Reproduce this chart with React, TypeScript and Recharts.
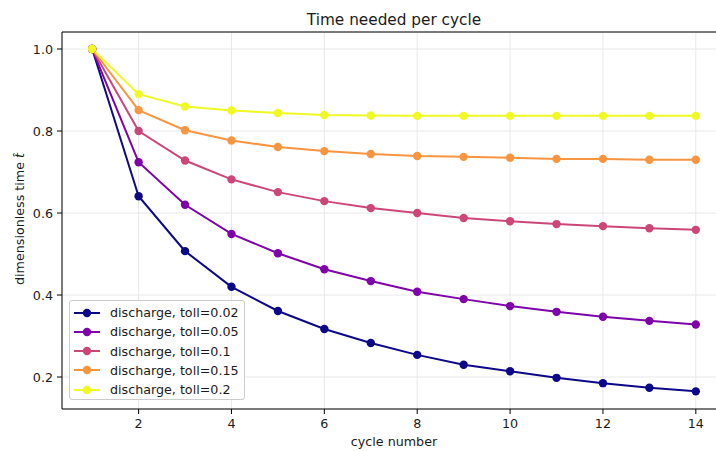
import { LineChart, Line, XAxis, YAxis, CartesianGrid, Legend, ReferenceLine } from 'recharts';

// cycle index (x axis)
const cycles = [1, 2, 3, 4, 5, 6, 7, 8, 9, 10, 11, 12, 13, 14];

// dimensionless time per cycle, one array per toll value
const toll002 = [1.0, 0.641, 0.507, 0.42, 0.361, 0.317, 0.283, 0.254, 0.23, 0.214, 0.198, 0.185, 0.174, 0.165];
const toll005 = [1.0, 0.724, 0.62, 0.549, 0.502, 0.463, 0.434, 0.408, 0.39, 0.373, 0.359, 0.347, 0.337, 0.328];
const toll01 = [1.0, 0.8, 0.728, 0.682, 0.651, 0.629, 0.612, 0.6, 0.588, 0.58, 0.573, 0.568, 0.563, 0.559];
const toll015 = [1.0, 0.851, 0.802, 0.777, 0.761, 0.751, 0.744, 0.739, 0.737, 0.735, 0.732, 0.732, 0.73, 0.73];
const toll02 = [1.0, 0.89, 0.86, 0.85, 0.844, 0.839, 0.838, 0.837, 0.837, 0.837, 0.837, 0.837, 0.837, 0.837];

const xTicks = [2, 4, 6, 8, 10, 12, 14];
const yTicks = [0.2, 0.4, 0.6, 0.8, 1.0];

const X_DOMAIN: [number, number] = [0.35, 14.65];
const Y_DOMAIN: [number, number] = [0.122, 1.0415];

const series = [
  { key: 'toll002', name: 'discharge, toll=0.02', color: '#0d0887', values: toll002 },
  { key: 'toll005', name: 'discharge, toll=0.05', color: '#7e03a8', values: toll005 },
  { key: 'toll01', name: 'discharge, toll=0.1', color: '#cc4778', values: toll01 },
  { key: 'toll015', name: 'discharge, toll=0.15', color: '#f89540', values: toll015 },
  { key: 'toll02', name: 'discharge, toll=0.2', color: '#f0f921', values: toll02 },
];

const data = cycles.map((c, i) => {
  const row: Record<string, number> = { cycle: c };
  series.forEach((s) => {
    row[s.key] = s.values[i];
  });
  return row;
});

const FONT = '"DejaVu Sans", sans-serif';
const TEXT = '#1a1a1a';

function LegendBox() {
  return (
    <div
      style={{
        width: 176,
        height: 100,
        boxSizing: 'border-box',
        background: 'rgba(255,255,255,0.8)',
        border: '1px solid #cccccc',
        borderRadius: 3,
        paddingTop: 2,
        fontFamily: FONT,
        fontSize: 12.7,
        color: TEXT,
      }}
    >
      {series.map((s) => (
        <div key={s.key} style={{ height: 19.25, display: 'flex', alignItems: 'center' }}>
          <svg width={26} height={10} style={{ marginLeft: 4, flex: 'none' }}>
            <line x1={0} y1={5} x2={26} y2={5} stroke={s.color} strokeWidth={2} />
            <circle cx={13} cy={5} r={4.2} fill={s.color} />
          </svg>
          <span style={{ marginLeft: 10, whiteSpace: 'nowrap' }}>{s.name}</span>
        </div>
      ))}
    </div>
  );
}

export default function App() {
  return (
    <div style={{ position: 'absolute', left: 0, top: 0, width: 716, height: 451, overflow: 'hidden', background: '#fff' }}>
      <LineChart width={726} height={451} data={data} margin={{ top: 32, right: 0, bottom: 0, left: 0 }}>
        <text x={394} y={25} textAnchor="middle" fontFamily={FONT} fontSize={15.3} fill={TEXT}>
          Time needed per cycle
        </text>
        <CartesianGrid stroke="#e8e8e8" strokeWidth={1} />
        <XAxis
          type="number"
          dataKey="cycle"
          domain={X_DOMAIN}
          ticks={xTicks}
          allowDataOverflow
          height={42}
          tickSize={5}
          tickMargin={5}
          stroke="#000"
          tick={{ fill: TEXT, fontSize: 12.7, fontFamily: FONT }}
          label={(props: any) => (
            <text x={394} y={446} textAnchor="middle" fontFamily={FONT} fontSize={12.7} fill={TEXT}>
              cycle number
            </text>
          )}
        />
        <YAxis
          type="number"
          domain={Y_DOMAIN}
          ticks={yTicks}
          allowDataOverflow
          width={62}
          tickSize={5}
          tickMargin={4}
          stroke="#000"
          tickFormatter={(v: number) => v.toFixed(1)}
          tick={{ fill: TEXT, fontSize: 12.7, fontFamily: FONT }}
          label={(props: any) => (
            <text
              x={24}
              y={219}
              transform="rotate(-90, 24, 219)"
              textAnchor="middle"
              fontFamily={FONT}
              fontSize={12.7}
              fill={TEXT}
            >
              dimensionless time <tspan fontStyle="italic">t̂</tspan>
            </text>
          )}
        />
        <ReferenceLine y={Y_DOMAIN[1]} stroke="#000" strokeWidth={1} />
        {series.map((s) => (
          <Line
            key={s.key}
            type="linear"
            dataKey={s.key}
            name={s.name}
            stroke={s.color}
            strokeWidth={2}
            dot={{ r: 4.2, fill: s.color, stroke: s.color, strokeWidth: 0 }}
            activeDot={false}
            isAnimationActive={false}
          />
        ))}
        <Legend
          layout="vertical"
          align="center"
          verticalAlign="middle"
          wrapperStyle={{ left: 69, top: 300, width: 176, height: 100 }}
          content={() => <LegendBox />}
        />
      </LineChart>
    </div>
  );
}
